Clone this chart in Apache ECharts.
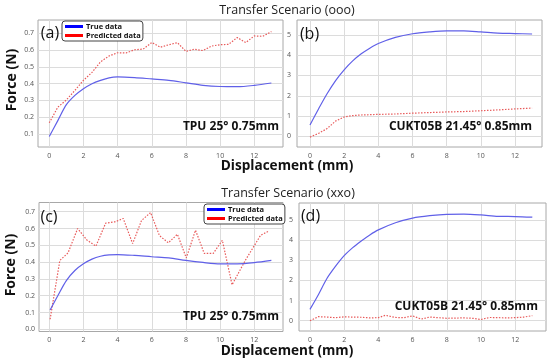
<!DOCTYPE html>
<html><head><meta charset="utf-8">
<script src="https://cdn.jsdelivr.net/npm/echarts@6/dist/echarts.min.js"></script>
<style>html,body{margin:0;padding:0;background:#fff}#c{width:550px;height:363px}</style>
</head><body><div id="c"></div><script>
// ---- data ----
var xTickVals = [0, 2, 4, 6, 8, 10, 12];
var yTicksA = [0.1, 0.2, 0.3, 0.4, 0.5, 0.6, 0.7];
var yTicksB = [0, 1, 2, 3, 4, 5];
var yTicksC = [0.0, 0.1, 0.2, 0.3, 0.4, 0.5, 0.6, 0.7];
var yTicksD = [0, 1, 2, 3, 4, 5];

var trueX = [0, 0.5, 1, 1.5, 2, 2.5, 3, 3.5, 4, 5, 6, 7, 8, 9, 10, 11, 12, 13];
var aTrue = [0.085, 0.18, 0.275, 0.33, 0.37, 0.40, 0.42, 0.435, 0.44, 0.436, 0.428, 0.42, 0.405, 0.39, 0.383, 0.382, 0.39, 0.404];
var aPredX = [0, 0.5, 1, 1.5, 2, 2.5, 3, 3.5, 4, 4.5, 5, 5.5, 6, 6.5, 7, 7.5, 8, 8.5, 9, 9.5, 10, 10.5, 11, 11.5, 12, 12.5, 13];
var aPred = [0.167, 0.26, 0.303, 0.36, 0.42, 0.467, 0.53, 0.565, 0.584, 0.583, 0.602, 0.606, 0.645, 0.617, 0.632, 0.644, 0.592, 0.605, 0.597, 0.624, 0.632, 0.634, 0.675, 0.645, 0.684, 0.682, 0.71];

var bTrue = [0.56, 1.35, 2.1, 2.75, 3.28, 3.72, 4.07, 4.35, 4.58, 4.88, 5.06, 5.15, 5.2, 5.2, 5.15, 5.09, 5.07, 5.05];
var bPredX = [0, 0.5, 1, 1.5, 2, 2.5, 3, 4, 5, 6, 7, 8, 9, 10, 11, 12, 13];
var bPred = [-0.04, 0.14, 0.38, 0.75, 0.95, 1.02, 1.05, 1.08, 1.1, 1.14, 1.17, 1.2, 1.22, 1.26, 1.3, 1.35, 1.39];

var cTrueX = [0.05, 0.5, 1, 1.5, 2, 2.5, 3, 3.5, 4, 5, 6, 7, 8, 9, 10, 11, 12, 13];
var cTrue = [0.115, 0.2, 0.29, 0.35, 0.39, 0.418, 0.435, 0.443, 0.445, 0.44, 0.432, 0.425, 0.41, 0.398, 0.39, 0.39, 0.397, 0.41];
var cPredX = [0.05, 0.62, 1.1, 1.66, 2.2, 2.73, 3.3, 3.85, 4.33, 4.88, 5.4, 5.93, 6.45, 6.97, 7.5, 8.02, 8.56, 9.07, 9.6, 10.13, 10.7, 11.5, 12.37, 12.85];
var cPred = [0.06, 0.41, 0.455, 0.60, 0.532, 0.495, 0.632, 0.64, 0.66, 0.51, 0.648, 0.695, 0.558, 0.515, 0.566, 0.425, 0.59, 0.452, 0.452, 0.53, 0.265, 0.415, 0.56, 0.585];

var dTrue = [0.56, 1.3, 2.1, 2.7, 3.22, 3.62, 3.95, 4.25, 4.5, 4.85, 5.08, 5.2, 5.27, 5.28, 5.24, 5.17, 5.16, 5.13];
var dPredX = [0, 0.5, 1, 1.5, 2, 2.5, 3, 3.5, 4, 4.4, 5, 5.5, 6, 6.5, 7, 7.5, 8, 8.5, 9, 9.5, 10, 10.5, 11, 11.5, 12, 12.5, 13];
var dPred = [0.0, 0.2, 0.18, 0.15, 0.19, 0.18, 0.17, 0.14, 0.15, 0.27, 0.16, 0.15, 0.24, 0.08, 0.18, 0.15, 0.12, 0.13, 0.14, 0.12, 0.06, 0.16, 0.15, 0.14, 0.15, 0.18, 0.25];

// ---- build ----
function zip(xs, ys) { return xs.map(function (x, i) { return [x, ys[i]]; }); }
var FONT = 'Open Sans';
var TRUE_C = '#6060e8', PRED_C = '#e85a5a';

function xAx(gi, min, max) {
  return {type: 'value', gridIndex: gi, min: min, max: max,
    axisLine: {show: false}, axisTick: {show: false, customValues: xTickVals},
    axisLabel: {customValues: xTickVals, fontSize: 7, color: '#555', margin: 5, fontFamily: FONT},
    splitLine: {show: true, lineStyle: {color: '#dcdcdc', width: 1}}};
}
function yAx(gi, min, max, ticks, dec, margin) {
  return {type: 'value', gridIndex: gi, min: min, max: max,
    axisLine: {show: false}, axisTick: {show: false, customValues: ticks},
    axisLabel: {customValues: ticks, fontSize: 7, color: '#555', margin: margin, fontFamily: FONT,
      formatter: function (v) { return v.toFixed(dec); }},
    splitLine: {show: true, lineStyle: {color: '#dcdcdc', width: 1}}};
}
function trueS(i, xs, ys) {
  return {name: 'True data', type: 'line', xAxisIndex: i, yAxisIndex: i, data: zip(xs, ys),
    smooth: 0.3, showSymbol: false, lineStyle: {color: TRUE_C, width: 1.2}, itemStyle: {color: TRUE_C}, z: 3};
}
function predS(i, xs, ys) {
  return {name: 'Predicted data', type: 'line', xAxisIndex: i, yAxisIndex: i, data: zip(xs, ys),
    showSymbol: false, lineStyle: {color: PRED_C, width: 1.2, type: [1.5, 1.5]}, itemStyle: {color: PRED_C}, z: 2};
}
function legendAt(left, top) {
  return {left: left, top: top, orient: 'vertical', itemGap: 0, itemWidth: 18, itemHeight: 3,
    icon: 'rect', padding: [1, 2, 1, 3], borderColor: '#444', borderWidth: 1, borderRadius: 3,
    backgroundColor: '#fff', selectedMode: false,
    textStyle: {fontSize: 7.5, fontWeight: 'bold', color: '#111', fontFamily: FONT, lineHeight: 9, padding: [0, 0, 0, -2]},
    data: [{name: 'True data', itemStyle: {color: '#0000ff'}}, {name: 'Predicted data', itemStyle: {color: '#ff0000'}}]};
}
var gridStyle = {show: true, borderColor: '#a8a8a8', borderWidth: 1, backgroundColor: '#fff'};
function txt(x, y, s, font, extra, fill) {
  var o = {type: 'text', x: x, y: y, z: 100, style: {text: s, font: font, fill: fill || '#111', align: 'center', verticalAlign: 'middle'}};
  if (extra) for (var k in extra) o[k] = extra[k];
  return o;
}

var option = {
  animation: false,
  grid: [
    Object.assign({left: 38, top: 20, width: 245, height: 127}, gridStyle),
    Object.assign({left: 297, top: 20, width: 245, height: 127}, gridStyle),
    Object.assign({left: 39, top: 202.5, width: 244, height: 129}, gridStyle),
    Object.assign({left: 299, top: 203, width: 247, height: 128}, gridStyle)
  ],
  xAxis: [xAx(0, -0.66, 13.68), xAx(1, -0.76, 13.58), xAx(2, -0.6, 13.68), xAx(3, -0.64, 13.8)],
  yAxis: [yAx(0, 0.023, 0.779, yTicksA, 1, 4), yAx(1, -0.53, 5.74, yTicksB, 0, 6),
          yAx(2, -0.013, 0.755, yTicksC, 1, 4), yAx(3, -0.51, 5.83, yTicksD, 0, 6)],
  legend: [legendAt(62, 21), legendAt(204, 204)],
  series: [
    predS(0, aPredX, aPred), trueS(0, trueX, aTrue),
    predS(1, bPredX, bPred), trueS(1, trueX, bTrue),
    predS(2, cPredX, cPred), trueS(2, cTrueX, cTrue),
    predS(3, dPredX, dPred), trueS(3, trueX, dTrue)
  ],
  graphic: [
    txt(287, 10.5, 'Transfer Scenario (ooo)', '12.5px "Open Sans"', null, '#222'),
    txt(288, 193, 'Transfer Scenario (xxo)', '12.5px "Open Sans"', null, '#222'),
    txt(287, 166, 'Displacement (mm)', 'bold 13.6px "Open Sans"'),
    txt(287, 351, 'Displacement (mm)', 'bold 13.6px "Open Sans"'),
    txt(12.5, 80, 'Force (N)', 'bold 14px "Open Sans"', {rotation: Math.PI / 2}),
    txt(11.5, 265, 'Force (N)', 'bold 14px "Open Sans"', {rotation: Math.PI / 2}),
    txt(50, 33, '(a)', '16px "Open Sans"'),
    txt(309.5, 34, '(b)', '16px "Open Sans"'),
    txt(49, 217, '(c)', '16px "Open Sans"'),
    txt(310.5, 216, '(d)', '16px "Open Sans"'),
    txt(231, 126.7, 'TPU 25° 0.75mm', 'bold 12px "Open Sans"'),
    txt(231, 316.7, 'TPU 25° 0.75mm', 'bold 12px "Open Sans"'),
    txt(460.5, 126.7, 'CUKT05B 21.45° 0.85mm', 'bold 12px "Open Sans"'),
    txt(466.3, 306.7, 'CUKT05B 21.45° 0.85mm', 'bold 12px "Open Sans"')
  ]
};
var chart = echarts.init(document.getElementById('c'), null, {renderer: 'canvas'});
chart.setOption(option);
</script></body></html>
